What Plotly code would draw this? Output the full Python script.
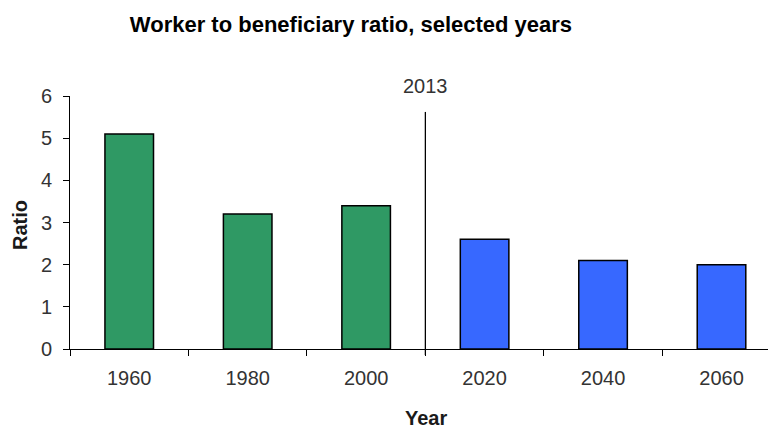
import plotly.graph_objects as go

years = ["1960", "1980", "2000", "2020", "2040", "2060"]
ratios = [5.1, 3.2, 3.4, 2.6, 2.1, 2.0]
colors = ["#2F9964", "#2F9964", "#2F9964", "#3768FF", "#3768FF", "#3768FF"]
divider_label = "2013"

fig = go.Figure(go.Bar(
    x=years, y=ratios,
    marker=dict(color=colors, line=dict(color="black", width=1.5)),
    width=0.41,
))

fig.add_shape(type="line", xref="x", yref="paper", x0=2.5, x1=2.5,
              y0=-0.024, y1=0.937, line=dict(color="black", width=1.3))
fig.add_annotation(x=2.5, xref="x", y=1.0415, yref="paper", text=divider_label,
                   showarrow=False, yanchor="middle",
                   font=dict(size=20, color="#333333"))
fig.add_annotation(x=0.504, xref="paper", y=-0.273, yref="paper", text="<b>Year</b>",
                   showarrow=False, xanchor="center", yanchor="middle",
                   font=dict(size=20, color="#1a1a1a"))
fig.add_annotation(x=-0.0708, xref="paper", y=0.49, yref="paper", text="<b>Ratio</b>",
                   showarrow=False, xanchor="center", yanchor="middle", textangle=-90,
                   font=dict(size=20, color="#1a1a1a"))

fig.update_layout(
    width=768, height=421,
    margin=dict(l=62, r=0, t=88, b=80),
    paper_bgcolor="white", plot_bgcolor="white",
    font=dict(family="Liberation Sans, Arial", color="#222222"),
    showlegend=False,
    title=dict(text="<b>Worker to beneficiary ratio, selected years</b>",
               x=0.4466, xanchor="center", y=0.962, yanchor="middle",
               font=dict(size=22, color="black")),
    xaxis=dict(type="category", range=[-0.5, 5.46], showline=True,
               linecolor="black", linewidth=1, ticks="outside",
               tickson="boundaries", ticklen=6, tickcolor="black",
               tickfont=dict(size=20, color="#333333"), ticklabelstandoff=11,
               showgrid=False, zeroline=False),
    yaxis=dict(range=[0, 6], dtick=1, showline=True, linecolor="black",
               linewidth=1, ticks="outside", ticklen=6, tickcolor="black",
               tickfont=dict(size=20, color="#333333"), ticklabelstandoff=7,
               showgrid=False, zeroline=False),
)

fig.write_html("out.html")
